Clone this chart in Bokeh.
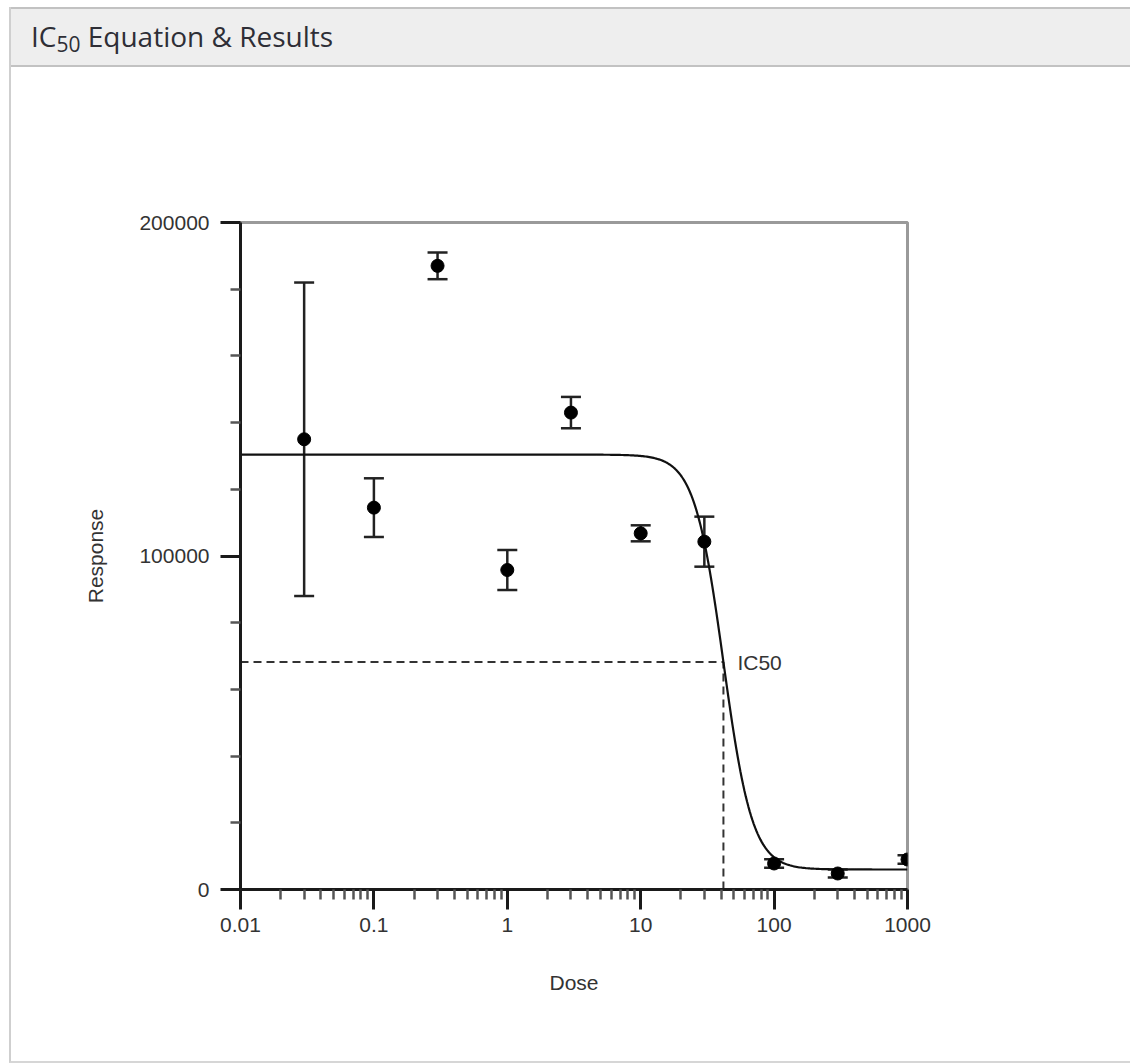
import numpy as np
from bokeh.plotting import figure
from bokeh.layouts import column
from bokeh.models import (Range1d, FixedTicker, CustomJSTickFormatter, BasicTickFormatter,
                          Whisker, TeeHead, ColumnDataSource, Label, Div)
from bokeh.embed import file_html
from bokeh.resources import INLINE

# ---- data ----
dose = [0.03, 0.1, 0.3, 1, 3, 10, 30, 100, 300, 1000]
response = [135000, 114500, 187000, 95800, 143000, 106800, 104300, 7800, 4800, 9000]
resp_err = [47000, 8800, 4000, 6000, 4700, 2400, 7500, 1300, 1200, 1300]

# fitted 4-parameter logistic curve parameters
fit_top = 130400
fit_bottom = 6000
fit_ic50 = 41.7
fit_hill = 4.0

x_ticks = [0.01, 0.1, 1, 10, 100, 1000]
y_ticks = [0, 100000, 200000]

# ---- page geometry ----
PAGE_W, PAGE_H = 1130, 1063
PANEL_LEFT, PANEL_TOP = 9, 7
BORDER = 2
HEADER_H = 60
FIG_X0 = PANEL_LEFT + BORDER
FIG_Y0 = PANEL_TOP + HEADER_H
FL, FR, FT, FB = 240, 907, 222, 889          # frame position on the page
fig_w = PAGE_W - FIG_X0
fig_h = PAGE_H - FIG_Y0 - BORDER

header = Div(
    text='IC<sub style="font-size:21px; vertical-align:-5px;">50</sub> Equation &amp; Results',
    width=fig_w, height=HEADER_H, margin=0,
    styles={"background-color": "#eeeeee", "border-top": "2px solid #c2c2c2",
            "border-bottom": "2px solid #c2c2c2", "box-sizing": "border-box",
            "font-family": "'Open Sans'", "font-size": "28px", "color": "#2e2e36",
            "padding-left": "20px", "padding-top": "9px", "line-height": "36px"})

p = figure(width=fig_w, height=fig_h, x_axis_type="log", output_backend="svg", toolbar_location=None,
           x_range=Range1d(0.01, 1000), y_range=Range1d(0, 200000),
           min_border_left=FL - FIG_X0, min_border_right=PAGE_W - FR,
           min_border_top=FT - FIG_Y0, min_border_bottom=fig_h - (FB - FIG_Y0),
           title=None, margin=0)
p.background_fill_color = "white"
p.border_fill_color = "white"
p.outline_line_color = "#9a9a9a"
p.outline_line_width = 3
p.xgrid.visible = False
p.ygrid.visible = False

# axes
minor_x = [k * 10.0 ** e for e in range(-2, 3) for k in range(2, 10)]
minor_y = [v for v in range(20000, 200000, 20000) if v not in y_ticks]
p.xaxis.ticker = FixedTicker(ticks=x_ticks, minor_ticks=minor_x)
p.yaxis.ticker = FixedTicker(ticks=y_ticks, minor_ticks=minor_y)
p.xaxis.formatter = CustomJSTickFormatter(code="return tick.toString();")
p.yaxis.formatter = BasicTickFormatter(use_scientific=False)
for ax in (p.xaxis, p.yaxis):
    ax.axis_line_width = 3
    ax.axis_line_color = "#1a1a1a"
    ax.major_tick_out = 20
    ax.major_tick_in = 0
    ax.major_tick_line_width = 3
    ax.major_tick_line_color = "#1a1a1a"
    ax.minor_tick_out = 10
    ax.minor_tick_in = 0
    ax.minor_tick_line_width = 2.5
    ax.minor_tick_line_color = "#555555"
    ax.major_label_text_font = "Liberation Sans"
    ax.major_label_text_font_size = "21px"
    ax.major_label_text_color = "#333333"
    ax.axis_label_text_font = "Liberation Sans"
    ax.axis_label_text_font_size = "21px"
    ax.axis_label_text_font_style = "normal"
    ax.axis_label_text_color = "#333333"
p.xaxis.major_label_standoff = 8
p.yaxis.major_label_standoff = 11
p.xaxis.axis_label = "Dose"
p.yaxis.axis_label = "Response"
p.xaxis.axis_label_standoff = 36
p.yaxis.axis_label_standoff = 29

# fitted curve
xc = np.logspace(-2, 3, 500)
yc = fit_bottom + (fit_top - fit_bottom) / (1 + (xc / fit_ic50) ** fit_hill)
half = (fit_top + fit_bottom) / 2
p.line([0.01, fit_ic50], [half, half], line_dash="8 5", line_width=2, line_color="#333333")
p.line([fit_ic50, fit_ic50], [0, half], line_dash="8 5", line_width=2, line_color="#333333")
p.line(xc, yc, line_width=2.2, line_color="#111111")
p.add_layout(Label(x=fit_ic50, y=half, x_offset=14, text="IC50", text_baseline="middle",
                   text_font="Liberation Sans", text_font_size="21px", text_color="#333333"))

# data with error bars
src = ColumnDataSource(dict(x=dose, y=response,
                            upper=[r + e for r, e in zip(response, resp_err)],
                            lower=[r - e for r, e in zip(response, resp_err)]))
p.add_layout(Whisker(base="x", upper="upper", lower="lower", source=src, dimension="height",
                     line_width=2.5, line_color="#222222",
                     upper_head=TeeHead(size=20, line_width=2.5, line_color="#222222"),
                     lower_head=TeeHead(size=20, line_width=2.5, line_color="#222222")))
p.scatter("x", "y", source=src, size=13, fill_color="black", line_color="black")

root = column(header, p, margin=(PANEL_TOP, 0, 0, PANEL_LEFT), spacing=0,
              styles={"border-left": "2px solid #cfcfcf", "border-bottom": "2px solid #d6d6d6",
                      "background-color": "white"})

open("out.html", "w").write(file_html(root, INLINE))
